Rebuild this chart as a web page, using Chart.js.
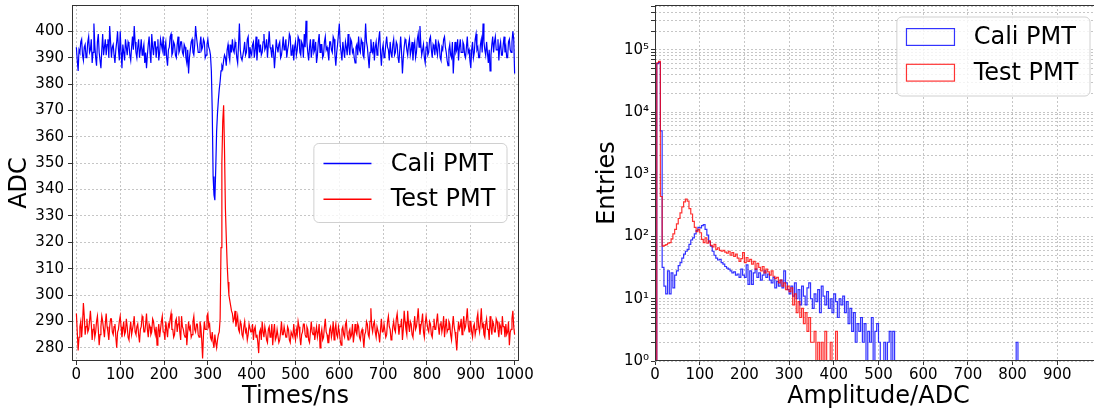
<!DOCTYPE html>
<html><head><meta charset="utf-8">
<script src="https://cdn.jsdelivr.net/npm/chart.js@4.4.1/dist/chart.umd.min.js"></script>
<style>
html,body{margin:0;padding:0;background:#fff;overflow:hidden;width:1094px;height:411px;position:relative;}
#wrapL{position:absolute;left:0;top:0;width:545px;height:411px;}
#wrapR{position:absolute;left:545px;top:0;width:600px;height:411px;}
canvas{display:block;}
</style></head><body>
<div id="wrapL"><canvas id="left" width="545" height="411"></canvas></div>
<div id="wrapR"><canvas id="right" width="600" height="411"></canvas></div>
<script>
// ---------------- DATA ----------------
// Left panel: waveform, one sample every 2 ns from 0 to 1000 ns
const sampleStepNs = 2;
const caliAdc = [
394,389,385,393,392,396,397,391,389,394,
395,390,391,396,398,392,393,397,388,392,
403,395,390,387,396,399,392,389,386,393,
399,391,394,397,391,395,397,390,402,396,
390,394,395,391,388,393,396,400,393,389,
400,392,386,395,392,389,397,394,391,396,
395,391,389,394,398,393,402,396,392,390,
394,397,390,393,397,391,393,395,388,392,
386,391,395,398,392,388,399,394,391,396,
396,390,394,397,389,392,397,395,393,398,
391,394,396,390,387,393,394,398,399,391,
392,396,395,391,390,395,398,392,393,396,
396,392,391,395,394,390,388,393,384,390,
393,396,397,392,391,395,402,398,395,392,
392,395,398,393,394,397,396,390,391,395,
397,394,393,391,385,370,345,338,336,348,
362,369,374,378,381,385,387,386,389,391,
390,387,393,395,391,389,395,392,397,393,
392,396,394,390,388,395,403,393,390,389,
389,393,396,391,392,397,398,390,394,392,
391,395,396,390,393,398,389,394,397,392,
395,391,392,396,399,393,394,397,390,395,
400,394,393,390,395,392,386,391,397,394,
392,395,396,390,391,394,398,393,394,397,
390,393,395,399,398,391,392,395,389,394,
396,391,393,398,397,392,391,396,395,390,
399,394,404,396,392,389,394,397,390,393,
397,392,393,396,388,391,396,399,392,395,
395,390,391,396,398,393,394,392,389,396,
396,393,392,398,397,391,387,392,395,399,
403,395,392,389,396,393,390,396,394,391,
399,394,391,397,396,392,393,390,388,394,
395,391,398,393,392,397,396,391,390,395,
403,396,394,390,386,392,397,393,392,396,
389,394,396,391,393,397,400,392,387,393,
395,390,391,395,398,394,393,389,396,392,
390,395,397,391,392,396,395,390,388,393,
398,392,384,390,394,397,396,393,391,395,
397,391,393,396,389,394,396,390,392,397,
399,394,402,395,391,393,395,390,388,394,
396,391,392,397,398,393,390,395,394,391,
397,393,391,396,395,390,389,394,393,397,
398,394,392,389,387,393,395,391,390,396,
384,391,396,392,393,397,389,394,397,392,
392,396,395,391,390,394,398,392,393,389,
386,393,396,390,392,397,399,393,394,390,
390,395,397,392,403,396,393,391,396,392,
388,393,385,391,395,398,392,396,398,393,
393,397,389,394,396,391,391,395,398,392,
394,390,390,396,397,393,392,396,400,397,
384];
const testAdc = [
293,286,279,284,288,290,284,289,297,292,
285,288,291,286,287,290,294,289,283,287,
289,284,286,290,292,287,281,285,288,292,
290,287,284,289,293,288,286,283,288,291,
291,286,285,288,289,284,280,286,287,290,
292,288,284,287,290,285,286,291,288,284,
283,287,290,285,287,289,292,286,285,288,
289,285,282,287,288,292,291,286,286,289,
293,287,284,289,288,285,286,291,290,287,
285,288,281,286,289,284,287,290,292,286,
286,283,290,287,284,289,288,291,293,287,
287,284,285,290,291,286,289,292,286,283,
292,288,287,285,284,289,281,286,290,287,
288,284,285,290,292,287,286,289,289,285,
284,290,288,283,276,285,290,287,287,292,
293,288,289,284,283,286,282,280,285,282,
280,283,285,286,291,318,350,366,372,355,
333,322,312,305,300,298,296,294,293,290,
291,294,288,290,292,287,286,290,289,285,
284,288,290,286,287,283,285,289,289,286,
286,289,283,287,288,284,285,282,278,286,
287,283,290,286,284,288,286,283,282,287,
288,284,285,289,281,286,289,283,284,287,
287,282,283,286,290,285,285,288,288,284,
284,288,287,283,282,286,286,284,289,285,
283,287,285,290,288,284,281,285,286,289,
289,285,284,288,287,283,282,286,290,286,
285,288,283,286,288,284,286,289,280,285,
287,283,284,288,291,286,285,282,282,287,
288,284,286,290,283,287,289,285,284,288,
286,283,281,287,288,285,284,289,290,285,
283,286,287,284,285,289,282,285,289,286,
285,289,288,284,283,286,287,284,280,285,
286,290,289,285,284,290,295,288,286,289,
290,286,284,288,288,285,282,287,291,286,
286,289,289,284,285,290,292,288,287,283,
284,288,290,287,286,291,293,289,285,288,
288,291,283,287,294,290,287,285,294,289,
286,290,289,285,284,288,292,287,288,291,
295,289,285,288,290,293,286,284,289,292,
292,287,286,290,289,285,284,288,291,287,
287,290,293,288,285,289,290,286,288,292,
284,288,291,286,287,290,289,285,283,288,
292,288,286,283,279,285,290,287,288,291,
285,289,292,287,288,291,295,289,286,290,
290,286,284,288,289,285,287,291,293,288,
286,290,295,288,289,285,284,289,291,287,
287,283,292,288,285,290,289,286,286,291,
290,287,284,289,288,285,292,288,288,284,
289,285,286,290,281,286,287,291,294,288,
285];
const timeTicks = [0,100,200,300,400,500,600,700,800,900,1000];
const adcTicks = [280,290,300,310,320,330,340,350,360,370,380,390,400];

// Right panel: amplitude histograms, 4-ADC bins starting at 0
const binWidth = 4;
const caliCounts = [
0,60000,63000,5000,32,16,12,28,12,26,
15,24,28,34,38,45,52,58,62,75,
88,95,110,125,140,138,150,155,130,105,
82,70,58,50,45,42,43,38,36,33,
31,30,28,26,27,24,25,22,30,24,
22,35,17,28,17,26,30,22,26,20,
24,28,22,25,20,18,22,15,19,16,
20,15,28,18,14,12,16,11,18,10,
14,8,16,11,8,15,18,10,7,12,
9,14,6,16,11,8,13,7,10,6,
12,9,5,10,8,11,6,9,4,7,
3,6,2,4,3,5,2,4,0,3,
2,5,1,3,4,2,0,0,2,0,
2,3,1,3,0,0,0,0,0,0,
0,0,0,0,0,0,0,0,0,0,
0,0,0,0,0,0,0,0,0,0,
0,0,0,0,0,0,0,0,0,0,
0,0,0,0,0,0,0,0,0,0,
0,0,0,0,0,0,0,0,0,0,
0,0,0,0,0,0,0,0,0,0,
0,0,2];
const testCounts = [
0,62000,65000,440,70,72,74,78,80,92,
110,130,160,195,240,300,360,400,370,280,
230,175,140,120,130,115,90,80,95,78,
85,72,68,75,62,66,60,58,60,56,
54,58,50,55,48,52,45,40,44,55,
38,46,40,43,36,40,30,37,32,28,
33,26,30,27,24,28,23,21,22,18,
20,16,18,14,16,13,15,8,12,6,
9,5,7,4,6,3,5,2,2,3,
0,2,0,2,0,3,0,1,2,0,
0,3,0];
const ampTicks = [0,100,200,300,400,500,600,700,800,900];
const entryDecades = [0,1,2,3,4,5];

// ---------------- RENDERING ----------------
Chart.defaults.font.family = '"DejaVu Sans", sans-serif';
Chart.defaults.color = '#000';
const gridColor = 'rgba(170,170,170,0.85)';
const sup = {'0':'\u2070','1':'\u00b9','2':'\u00b2','3':'\u00b3','4':'\u2074','5':'\u2075','6':'\u2076','7':'\u2077','8':'\u2078','9':'\u2079'};

const frame = {
  id: 'frame',
  afterDatasetsDraw(chart) {
    const {ctx, chartArea: a} = chart;
    ctx.save();
    ctx.strokeStyle = '#333';
    ctx.lineWidth = 1;
    ctx.strokeRect(Math.round(a.left) + 0.5, Math.round(a.top) + 0.5,
                   Math.round(a.right - a.left) - 1, Math.round(a.bottom - a.top) - 1);
    ctx.restore();
  }
};

function innerLegend(cfg) {
  return {
    id: 'innerLegend',
    afterDraw(chart) {
      const ctx = chart.ctx, a = chart.chartArea, fs = 24;
      const items = chart.data.datasets.map(d => ({label: d.label, color: d.borderColor}));
      ctx.save();
      ctx.font = fs + 'px "DejaVu Sans"';
      const tw = Math.max(...items.map(it => ctx.measureText(it.label).width));
      const w = 0.4*fs + 2*fs + 0.8*fs + tw + 0.4*fs + 2;
      const h = 79;
      const x = a.right - 0.5*fs - w;
      const y = cfg.loc === 'center right' ? (a.top + a.bottom)/2 - h/2 : a.top + 0.5*fs;
      const r = 5;
      ctx.beginPath();
      ctx.moveTo(x + r, y);
      ctx.arcTo(x + w, y, x + w, y + h, r);
      ctx.arcTo(x + w, y + h, x, y + h, r);
      ctx.arcTo(x, y + h, x, y, r);
      ctx.arcTo(x, y, x + w, y, r);
      ctx.closePath();
      ctx.fillStyle = 'rgba(255,255,255,0.8)';
      ctx.fill();
      ctx.strokeStyle = '#d0d0d0';
      ctx.lineWidth = 1;
      ctx.stroke();
      items.forEach((it, i) => {
        const cy = y + 20 + i*35.7;
        const hx = x + 0.4*fs;
        ctx.strokeStyle = it.color;
        if (cfg.kind === 'line') {
          ctx.lineWidth = 1.5;
          ctx.beginPath(); ctx.moveTo(hx, cy); ctx.lineTo(hx + 2*fs, cy); ctx.stroke();
        } else {
          ctx.lineWidth = 1.2;
          ctx.strokeRect(hx, cy - 0.35*fs, 2*fs, 0.7*fs);
        }
        ctx.fillStyle = '#000';
        ctx.textBaseline = 'middle';
        ctx.textAlign = 'left';
        ctx.fillText(it.label, hx + 2*fs + 0.8*fs, cy + 1);
      });
      ctx.restore();
    }
  };
}

function gridOpts() {
  return {color: gridColor, lineWidth: 0.8, tickBorderDash: [],
          tickColor: '#333', tickLength: 4, tickWidth: 1, drawTicks: true};
}
const borderOpts = {display: false, dash: [2, 2]};
function fitX(h) { return s => { s.height = h; s.paddingLeft = 0; s.paddingRight = 0; }; }
function fitY(w) { return s => { s.width = w; s.paddingTop = 0; s.paddingBottom = 0; }; }

// ----- left chart -----
const times = caliAdc.map((_, i) => i * sampleStepNs);
new Chart(document.getElementById('left'), {
  type: 'line',
  data: {datasets: [
    {label: 'Cali PMT', data: times.map((t, i) => ({x: t, y: caliAdc[i]})),
     borderColor: '#0000ff', borderWidth: 1.2, pointRadius: 0, tension: 0, order: 2},
    {label: 'Test PMT', data: times.map((t, i) => ({x: t, y: testAdc[i]})),
     borderColor: '#ff0000', borderWidth: 1.2, pointRadius: 0, tension: 0, order: 1}
  ]},
  options: {
    responsive: false, animation: false, devicePixelRatio: 1,
    layout: {padding: {left: 0, right: 26, top: 5, bottom: 0}},
    plugins: {legend: {display: false}, tooltip: {enabled: false}},
    scales: {
      x: {type: 'linear', min: -10, max: 1010,
          afterBuildTicks: s => { s.ticks = timeTicks.map(v => ({value: v})); },
          afterFit: fitX(50),
          ticks: {autoSkip: false, maxRotation: 0, font: {size: 15}, color: '#000', padding: 1,
                  callback: v => String(v)},
          grid: gridOpts(), border: borderOpts,
          title: {display: true, text: 'Times/ns', font: {size: 24}, color: '#000', padding: {top: 0, bottom: 0}}},
      y: {type: 'linear', min: 275, max: 410,
          afterBuildTicks: s => { s.ticks = adcTicks.map(v => ({value: v})); },
          afterFit: fitY(72),
          ticks: {autoSkip: false, font: {size: 15}, color: '#000', padding: 4,
                  callback: v => String(v)},
          grid: gridOpts(), border: borderOpts,
          title: {display: true, text: 'ADC', font: {size: 24}, color: '#000', padding: {top: 5, bottom: 0}}}
    }
  },
  plugins: [frame, innerLegend({loc: 'center right', kind: 'line'})]
});

// ----- right chart -----
const logFloor = 0.1; // empty bins drawn below the axis, like a step histogram on log axes
function histPoints(counts) {
  const pts = [{x: 0, y: logFloor}];
  counts.forEach((c, i) => pts.push({x: i * binWidth, y: c > 0 ? c : logFloor}));
  pts.push({x: counts.length * binWidth, y: logFloor});
  return pts;
}
const logTicks = [];
entryDecades.forEach(d => {
  for (let m = 1; m <= 9; m++) {
    const v = m * Math.pow(10, d);
    if (v <= 525000) logTicks.push(v);
  }
});
new Chart(document.getElementById('right'), {
  type: 'line',
  data: {datasets: [
    {label: 'Cali PMT', data: histPoints(caliCounts), stepped: true,
     borderColor: 'rgba(0,0,255,0.8)', borderWidth: 1.2, pointRadius: 0, order: 2},
    {label: 'Test PMT', data: histPoints(testCounts), stepped: true,
     borderColor: 'rgba(255,0,0,0.8)', borderWidth: 1.2, pointRadius: 0, order: 1}
  ]},
  options: {
    responsive: false, animation: false, devicePixelRatio: 1,
    layout: {padding: {left: 0, right: 43, top: 5, bottom: 0}},
    plugins: {legend: {display: false}, tooltip: {enabled: false}},
    scales: {
      x: {type: 'linear', min: 0, max: 1000,
          afterBuildTicks: s => { s.ticks = ampTicks.map(v => ({value: v})); },
          afterFit: fitX(50),
          ticks: {autoSkip: false, maxRotation: 0, font: {size: 15}, color: '#000', padding: 1,
                  callback: v => String(v)},
          grid: gridOpts(), border: borderOpts,
          title: {display: true, text: 'Amplitude/ADC', font: {size: 24}, color: '#000', padding: {top: 0, bottom: 0}}},
      y: {type: 'logarithmic', min: 1, max: 525000,
          afterBuildTicks: s => { s.ticks = logTicks.map(v => ({value: v})); },
          afterFit: fitY(110),
          ticks: {autoSkip: false, font: {size: 15}, color: '#000', padding: 2,
                  callback: v => {
                    const e = Math.round(Math.log10(v));
                    if (Math.abs(Math.pow(10, e) - v) < 1e-6 * v) return '10' + String(e).split('').map(c => sup[c]).join('');
                    return '';
                  }},
          grid: gridOpts(), border: borderOpts,
          title: {display: true, text: 'Entries', font: {size: 24}, color: '#000', padding: {top: 48, bottom: 0}}}
    }
  },
  plugins: [frame, innerLegend({loc: 'upper right', kind: 'patch'})]
});
</script>
</body></html>
